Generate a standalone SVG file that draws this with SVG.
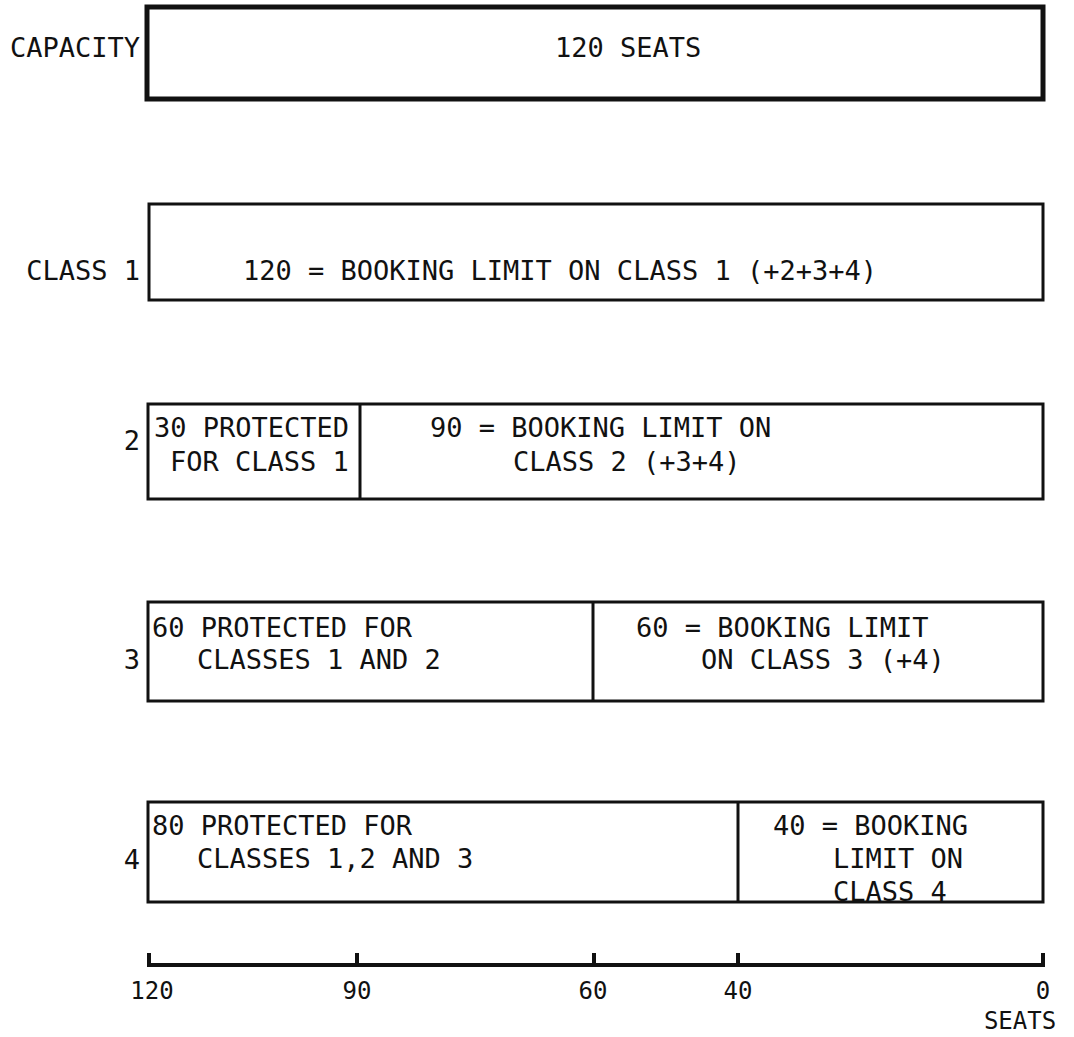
<svg xmlns="http://www.w3.org/2000/svg" width="1074" height="1037" viewBox="0 0 1074 1037">
<style>
.t{font-family:"DejaVu Sans Mono","Liberation Mono",monospace;font-size:27px;fill:#111}
.a{font-family:"DejaVu Sans Mono","Liberation Mono",monospace;font-size:24px;fill:#111}
.box{fill:#fff;stroke:#111;stroke-width:3}
.thick{fill:#fff;stroke:#111;stroke-width:5}
.div{stroke:#111;stroke-width:3}
.ax{stroke:#111;stroke-width:4;fill:none}
</style>
<rect width="1074" height="1037" fill="#fff"/>
<g id="capacity">
<rect class="thick" x="147" y="7" width="896" height="92"/>
<text class="t" x="140" y="57" text-anchor="end">CAPACITY</text>
<text class="t" x="555" y="57">120 SEATS</text>
</g>
<g id="class1">
<rect class="box" x="149" y="204" width="894" height="96"/>
<text class="t" x="140" y="280" text-anchor="end">CLASS 1</text>
<text class="t" x="243" y="280">120 = BOOKING LIMIT ON CLASS 1 (+2+3+4)</text>
</g>
<g id="class2">
<rect class="box" x="148" y="404" width="895" height="95"/>
<line class="div" x1="360" y1="404" x2="360" y2="499"/>
<text class="t" x="140" y="450" text-anchor="end">2</text>
<text class="t" x="154" y="437">30 PROTECTED</text>
<text class="t" x="170" y="471">FOR CLASS 1</text>
<text class="t" x="430" y="437">90 = BOOKING LIMIT ON</text>
<text class="t" x="513" y="471">CLASS 2 (+3+4)</text>
</g>
<g id="class3">
<rect class="box" x="148" y="602" width="895" height="99"/>
<line class="div" x1="593" y1="602" x2="593" y2="701"/>
<text class="t" x="140" y="669" text-anchor="end">3</text>
<text class="t" x="152" y="637">60 PROTECTED FOR</text>
<text class="t" x="197" y="669">CLASSES 1 AND 2</text>
<text class="t" x="636" y="637">60 = BOOKING LIMIT</text>
<text class="t" x="701" y="669">ON CLASS 3 (+4)</text>
</g>
<g id="class4">
<rect class="box" x="148" y="802" width="895" height="100"/>
<line class="div" x1="738" y1="802" x2="738" y2="902"/>
<text class="t" x="140" y="869" text-anchor="end">4</text>
<text class="t" x="152" y="835">80 PROTECTED FOR</text>
<text class="t" x="197" y="868">CLASSES 1,2 AND 3</text>
<text class="t" x="773" y="835">40 = BOOKING</text>
<text class="t" x="833" y="868">LIMIT ON</text>
<text class="t" x="833" y="901">CLASS 4</text>
</g>
<g id="axis">
<line class="ax" x1="148" y1="965" x2="1044" y2="965"/>
<path class="ax" d="M149 953V967M357 953V967M594 953V967M738 953V967M1043 953V967"/>
<text class="a" x="152" y="999" text-anchor="middle">120</text>
<text class="a" x="357" y="999" text-anchor="middle">90</text>
<text class="a" x="593" y="999" text-anchor="middle">60</text>
<text class="a" x="738" y="999" text-anchor="middle">40</text>
<text class="a" x="1043" y="999" text-anchor="middle">0</text>
<text class="a" x="1020" y="1029" text-anchor="middle">SEATS</text>
</g>
</svg>
